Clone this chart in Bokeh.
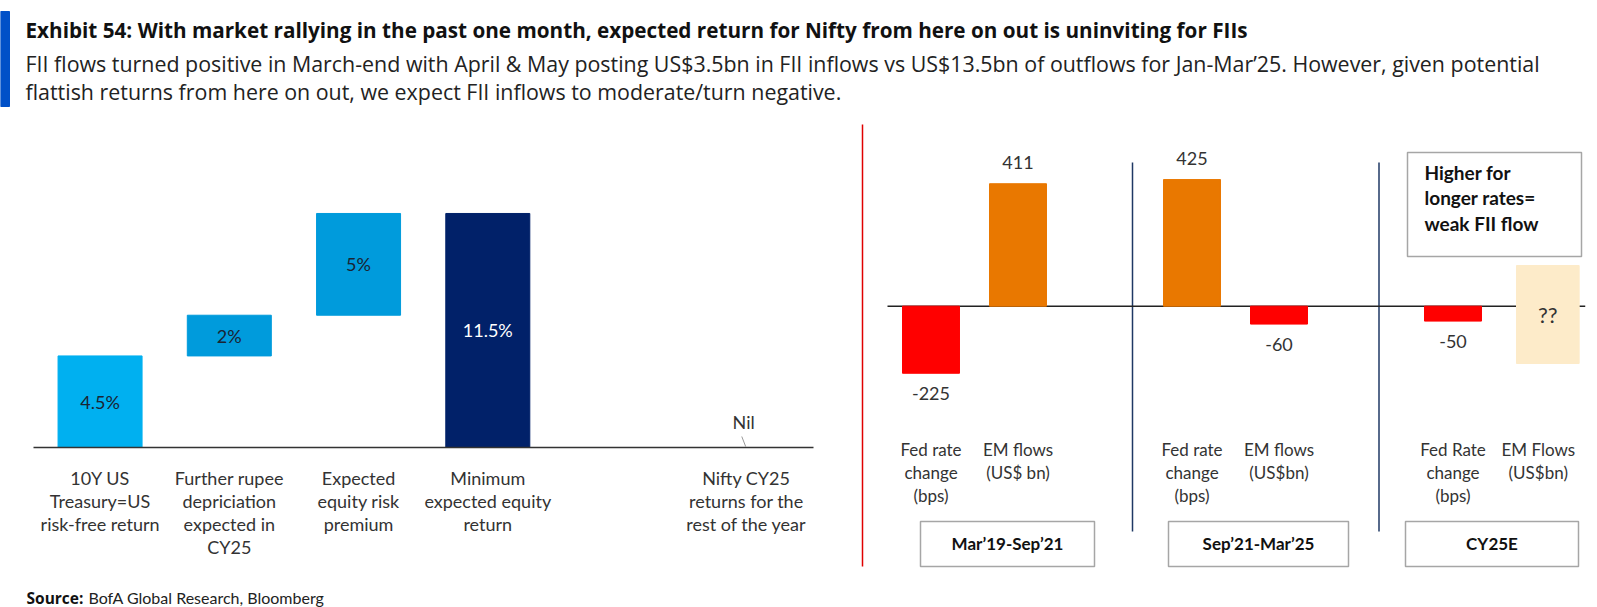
from bokeh.plotting import figure
from bokeh.layouts import column, row
from bokeh.models import Range1d, FixedTicker
from bokeh.core.properties import value
from bokeh.embed import file_html
from bokeh.resources import INLINE

# ---------------- data ----------------
title_text = "Exhibit 54: With market rallying in the past one month, expected return for Nifty from here on out is uninviting for FIIs"
subtitle_lines = [
    "FII flows turned positive in March-end with April & May posting US$3.5bn in FII inflows vs US$13.5bn of outflows for Jan-Mar\u201925. However, given potential",
    "flattish returns from here on out, we expect FII inflows to moderate/turn negative.",
]
source_bold = "Source:"
source_rest = "BofA Global Research, Bloomberg"

left_labels = ["10Y US\nTreasury=US\nrisk-free return",
               "Further rupee\ndepriciation\nexpected in\nCY25",
               "Expected\nequity risk\npremium",
               "Minimum\nexpected equity\nreturn",
               "Nifty CY25\nreturns for the\nrest of the year"]
left_slots = [0, 1, 2, 3, 5]
left_values = [4.5, 2.0, 5.0, 11.5, 0.0]
left_value_text = ["4.5%", "2%", "5%", "11.5%", "Nil"]
left_kind = ["step", "step", "step", "total", "nil"]

periods = ["Mar\u201919-Sep\u201921", "Sep\u201921-Mar\u201925", "CY25E"]
fed_rate_change_bps = [-225, 425, -50]
em_flows_usd_bn = [411, -60, None]
fed_labels = ["Fed rate\nchange\n(bps)", "Fed rate\nchange\n(bps)", "Fed Rate\nchange\n(bps)"]
em_labels = ["EM flows\n(US$ bn)", "EM flows\n(US$bn)", "EM Flows\n(US$bn)"]
unknown_text = "??"
note_text = "Higher for\nlonger rates=\nweak FII flow"

# ---------------- style ----------------
FONT = "Lato"
HFONT = "Open Sans"
TXT = "#333333"
C_RF = "#00B0F0"
C_STEP = "#009BDC"
C_TOTAL = "#012169"
C_POS = "#E97800"
C_NEG = "#FF0000"
C_UNK = "#FDEBC9"
C_BOX = "#A6A6A6"
C_DIV = "#1F3864"

W, H = 1597, 607
HEAD_H = 112
ROW_H = 460
FOOT_H = H - HEAD_H - ROW_H
LEFT_W = 844
RIGHT_W = W - LEFT_W

def base_fig(w, h, xr, yr, **kw):
    opts = dict(width=w, height=h, x_range=xr, y_range=yr, output_backend="svg",
                toolbar_location=None, x_axis_location=None, y_axis_location=None,
                min_border=0)
    opts.update(kw)
    p = figure(**opts)
    p.outline_line_color = None
    p.grid.visible = False
    p.background_fill_color = "white"
    p.border_fill_color = "white"
    p.frame_align = False
    return p

# ---------------- header ----------------
hp = base_fig(W, HEAD_H, Range1d(0, W), Range1d(HEAD_H, 0))
hp.quad(left=[0], right=[9], top=[11], bottom=[106], color="#0050C8")
hp.text(x=[25], y=[29], text=[title_text], text_font=value(HFONT), text_font_style="bold",
        text_font_size="20.7px", text_color="#111111", text_baseline="alphabetic")
hp.text(x=[25, 25], y=[63, 91], text=subtitle_lines, text_font=value(HFONT),
        text_font_size="21.4px", text_color="#222222", text_baseline="alphabetic")

# ---------------- left waterfall ----------------
LPX = 20.35  # px per %
AX_Y = 447   # page y of the zero axis
lp = figure(width=LEFT_W, height=ROW_H, x_range=Range1d(-0.515, 5.52),
            y_range=Range1d(0, (AX_Y - HEAD_H) / LPX),
            output_backend="svg", toolbar_location=None, y_axis_location=None,
            x_axis_location="below", min_border_left=33, min_border_right=LEFT_W - 813,
            min_border_top=0, min_border_bottom=HEAD_H + ROW_H - AX_Y)
lp.outline_line_color = None
lp.grid.visible = False
lp.frame_align = False
ax = lp.xaxis[0]
ax.ticker = FixedTicker(ticks=left_slots)
ax.major_label_overrides = {s: lab for s, lab in zip(left_slots, left_labels)}
ax.major_tick_line_color = None
ax.minor_tick_line_color = None
ax.axis_line_color = "#333333"
ax.axis_line_width = 1.5
ax.major_label_text_font = FONT
ax.major_label_text_font_size = "18px"
ax.major_label_text_color = TXT
ax.major_label_text_line_height = 1.06
ax.major_label_standoff = 13

cum = 0.0
bx, btop, bbot, bcol, lx, ly, lt, lc = [], [], [], [], [], [], [], []
for s, v, t, k in zip(left_slots, left_values, left_value_text, left_kind):
    if k == "step":
        b, tp = cum, cum + v
        cum += v
        col = C_RF if s == 0 else C_STEP
    elif k == "total":
        b, tp = 0.0, v
        col = C_TOTAL
    else:
        continue
    bx.append(s); btop.append(tp); bbot.append(b); bcol.append(col)
    lx.append(s); ly.append((b + tp) / 2); lt.append(t)
    lc.append("white" if k == "total" else "#1A2433")
lp.vbar(x=bx, top=btop, bottom=bbot, width=0.65, color=bcol)
lp.text(x=lx, y=ly, text=lt, text_font=value(FONT), text_font_size="18px", text_color=lc,
        text_align="center", text_baseline="middle")
# Nil label with a small leader
nil_i = left_kind.index("nil")
nx = left_slots[nil_i]
lp.text(x=[nx - 0.02], y=[left_values[nil_i] + 26 / LPX], text=[left_value_text[nil_i]],
        text_font=value(FONT), text_font_size="18px", text_color=TXT,
        text_align="center", text_baseline="middle")
lp.segment(x0=[nx - 0.035], y0=[11 / LPX], x1=[nx - 0.005], y1=[0.05], line_color="#999999", line_width=1)

# ---------------- right bars ----------------
SC = 0.298  # px per unit
def rx(px):
    return (px - 930.5) / 87.0
def ry(py):
    return (305.7 - py) / SC

rp = base_fig(RIGHT_W, ROW_H, Range1d(rx(LEFT_W), rx(W)), Range1d(ry(HEAD_H + ROW_H), ry(HEAD_H)))

fed_x = [0, 3, 6]
em_x = [1, 4, 7]
xs, vs = [], []
for i in range(3):
    xs.append(fed_x[i]); vs.append(fed_rate_change_bps[i])
    if em_flows_usd_bn[i] is not None:
        xs.append(em_x[i]); vs.append(em_flows_usd_bn[i])

# red separator and group dividers
rp.segment(x0=[rx(862)], y0=[ry(124)], x1=[rx(862)], y1=[ry(566)], line_color="#E00000", line_width=1.5)
rp.segment(x0=[rx(1132), rx(1378.5)], y0=[ry(162)] * 2, x1=[rx(1132), rx(1378.5)], y1=[ry(531)] * 2,
           line_color=C_DIV, line_width=1.5)
# zero line
rp.segment(x0=[-0.5], y0=[0], x1=[7.52], y1=[0], line_color="#222222", line_width=1.5)

rp.vbar(x=xs, top=vs, bottom=0, width=0.655, color=[C_POS if v > 0 else C_NEG for v in vs])
rp.text(x=xs, y=[v + 21 / SC if v > 0 else v - 20 / SC for v in vs], text=[str(v) for v in vs],
        text_font=value(FONT), text_font_size="18px", text_color=TXT,
        text_align="center", text_baseline="middle")

# unknown EM flows box
rp.quad(left=[em_x[2] - 0.27], right=[em_x[2] + 0.45], top=[ry(265)], bottom=[ry(363)], color=C_UNK)
rp.text(x=[em_x[2] + 0.09], y=[ry(314)], text=[unknown_text], text_font=value(FONT),
        text_font_size="22px", text_color=TXT, text_align="center", text_baseline="middle")

# category labels
rp.text(x=fed_x + em_x[:2] + [em_x[2] - 0.02], y=[ry(438)] * 6, text=fed_labels + em_labels,
        text_font=value(FONT), text_font_size="17px", text_color=TXT, text_align="center",
        text_baseline="top", text_line_height=1.1)

# period boxes
box_l = [rx(920), rx(1168), rx(1405)]
box_r = [rx(1094), rx(1348), rx(1578)]
rp.quad(left=box_l, right=box_r, top=[ry(521)] * 3, bottom=[ry(566)] * 3, fill_color=None,
        line_color=C_BOX, line_width=1.5)
rp.text(x=[(a + b) / 2 for a, b in zip(box_l, box_r)], y=[ry(543)] * 3, text=periods,
        text_font=value(FONT), text_font_style="bold", text_font_size="17px", text_color="#111111",
        text_align="center", text_baseline="middle")

# note box
rp.quad(left=[rx(1407)], right=[rx(1581)], top=[ry(152)], bottom=[ry(256)], fill_color="white",
        line_color=C_BOX, line_width=1.5)
rp.text(x=[rx(1424)], y=[ry(160)], text=[note_text], text_font=value(FONT), text_font_style="bold",
        text_font_size="19px", text_color="#111111", text_align="left", text_baseline="top",
        text_line_height=1.12)

# ---------------- footer ----------------
fp = base_fig(W, FOOT_H, Range1d(0, W), Range1d(H, HEAD_H + ROW_H))
fp.text(x=[26], y=[597], text=[source_bold], text_font=value(HFONT), text_font_style="bold",
        text_font_size="15.5px", text_color="#111111", text_baseline="alphabetic")
fp.text(x=[88], y=[597], text=[source_rest], text_font=value(FONT),
        text_font_size="16px", text_color="#222222", text_baseline="alphabetic")

layout = column(hp, row(lp, rp), fp)
open("out.html", "w").write(file_html(layout, INLINE))
